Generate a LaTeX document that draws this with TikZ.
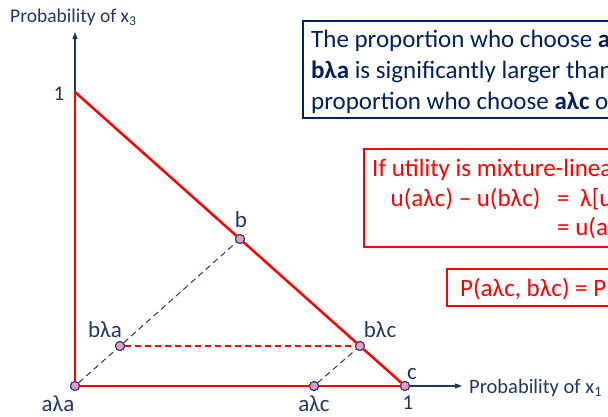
\documentclass[tikz,border=0pt]{standalone}
\usepackage{fontspec}
\setmainfont{Carlito}
\usetikzlibrary{arrows.meta}
\definecolor{navy}{RGB}{31,56,100}
\definecolor{boxblue}{RGB}{0,32,96}
\definecolor{pred}{RGB}{255,0,0}
\definecolor{pinkfill}{RGB}{242,150,200}
\tikzset{
  ptnode/.style={circle,draw=navy,fill=pinkfill,line width=1pt,inner sep=0pt,minimum size=9pt},
  lbl/.style={text=navy,font=\fontsize{23}{27}\selectfont,inner sep=0pt},
  onelbl/.style={text=navy,font=\fontsize{21}{25}\selectfont,inner sep=0pt},
  axlbl/.style={text=navy,font=\fontsize{19.5}{24}\selectfont,inner sep=0pt,anchor=base west},
  axisline/.style={draw=navy,line width=1.2pt,-{Triangle[length=7pt,width=5pt]}},
  redline/.style={draw=pred,line width=2.5pt},
  dashnavy/.style={draw=navy,line width=1pt,dash pattern=on 6pt off 4pt},
  dashred/.style={draw=pred,line width=1.2pt,dash pattern=on 6pt off 4pt},
  bluetxt/.style={text=boxblue,font=\fontsize{25}{31}\selectfont,inner sep=0pt,anchor=base west},
  redtxt/.style={text=pred,font=\fontsize{25}{31}\selectfont,inner sep=0pt,anchor=base west},
  bluebox/.style={draw=boxblue,line width=2pt},
  redbox/.style={draw=pred,line width=2pt}
}
\begin{document}
\begin{tikzpicture}[x=1pt,y=-1pt]
\useasboundingbox (0,0) rectangle (608,416);
\begin{scope}
\clip (0,0) rectangle (608,416);
% key points
\coordinate (top) at (75,92);
\coordinate (ytip) at (75,32);
\coordinate (xtip) at (462,386);
\node[ptnode] (aa) at (75,386) {};
\node[ptnode] (b) at (240,239) {};
\node[ptnode] (ba) at (120,346) {};
\node[ptnode] (bc) at (360,346) {};
\node[ptnode] (ac) at (314,386) {};
\node[ptnode] (c) at (405,386) {};
% axes
\draw[axisline] (aa) -- (ytip);
\draw[axisline] (c) -- (xtip);
% triangle
\draw[redline] (aa) -- (top);
\draw[redline] (top) -- (b);
\draw[redline] (b) -- (bc);
\draw[redline] (bc) -- (c);
\draw[redline] (aa) -- (ac);
\draw[redline] (ac) -- (c);
% dashed
\draw[dashnavy] (aa) -- (ba);
\draw[dashnavy] (ba) -- (b);
\draw[dashnavy] (ac) -- (bc);
\draw[dashred] (ba) -- (bc);
% redraw points on top
\foreach \p in {aa,b,ba,bc,ac,c} {\node[ptnode] at (\p) {};}
% point labels
\node[lbl] (lb) at (241,219.5) {b};
\node[lbl] (lba) at (105,329.5) {bλa};
\node[lbl] (lbc) at (380,329.5) {bλc};
\node[lbl] (lc) at (412,374) {c};
\node[lbl] (laa) at (58,404) {aλa};
\node[lbl] (lac) at (314,404) {aλc};
\node[onelbl] (one3) at (59,94) {1};
\node[onelbl] (one1) at (408,403) {1};
% axis labels
\node[axlbl] (ax3) at (10,22) {Probability of x\textsubscript{3}};
\node[axlbl,font=\fontsize{20.5}{24}\selectfont] (ax1) at (469,393.5) {Probability of x\textsubscript{1}};
% blue box
\draw[bluebox] (303,21) rectangle (640,118);
\node[bluetxt] (bt1) at (311,47) {The proportion who choose \textbf{aλa} over};
\node[bluetxt] (bt2) at (311,78) {\textbf{bλa} is significantly larger than the};
\node[bluetxt] (bt3) at (311,109) {proportion who choose \textbf{aλc} over \textbf{bλc}};
% red box 1
\draw[redbox] (364,149) rectangle (640,247);
\node[redtxt] (rt1) at (372,176) {If utility is mixture-linear};
\node[redtxt] (rt2) at (390.5,206.5) {u(aλc) – u(bλc)};
\node[redtxt] (rt2b) at (557,206.5) {=};
\node[redtxt] (rt2c) at (580,206.5) {λ[u(a) – u(b)]};
\node[redtxt] (rt3) at (557,235.5) {= u(aλa) – u(bλa)};
% red box 2
\draw[redbox] (447,269) rectangle (640,306);
\node[redtxt] (rp) at (460,296) {P(aλc, bλc) = P(aλa, bλa)};
\end{scope}
\end{tikzpicture}
\end{document}
